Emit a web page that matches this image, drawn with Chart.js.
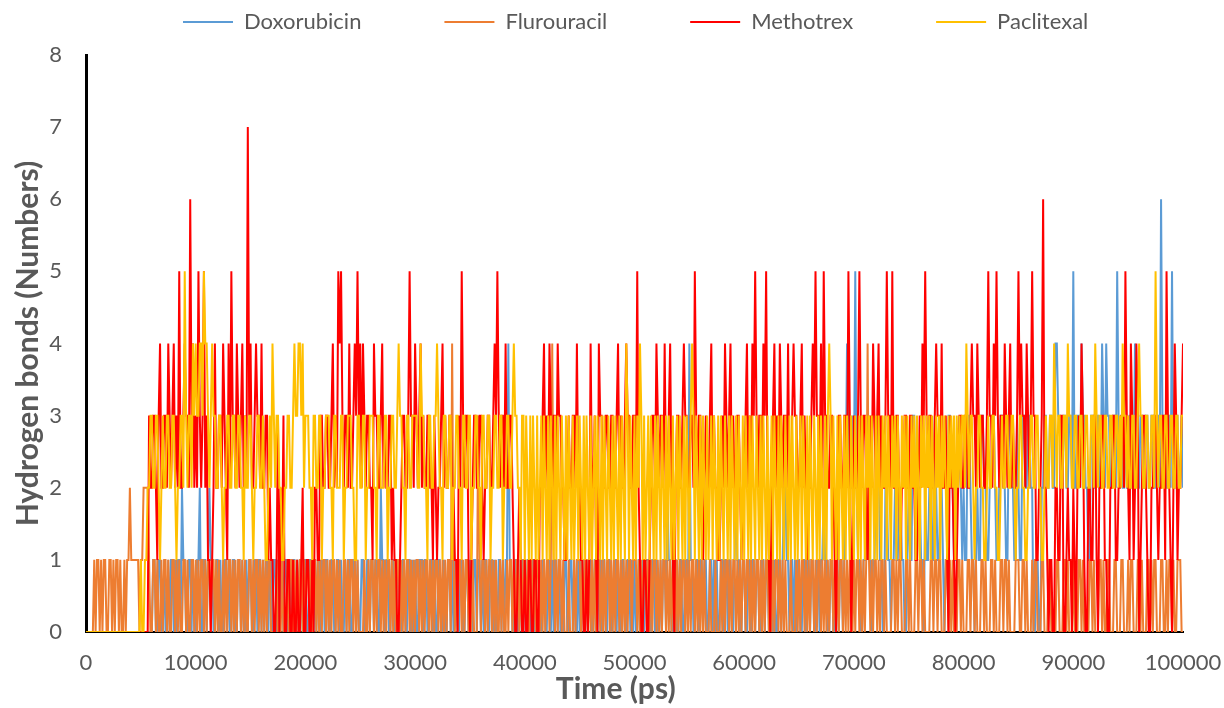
<!DOCTYPE html>
<html>
<head>
<meta charset="utf-8">
<script src="https://cdn.jsdelivr.net/npm/chart.js@4.4.0/dist/chart.umd.min.js"></script>
<style>
  html, body { margin: 0; padding: 0; background: #ffffff; }
  #wrap { width: 1224px; height: 708px; }
</style>
</head>
<body>
<div id="wrap"><canvas id="c" width="1224" height="708"></canvas></div>
<script>
// ---- data (hydrogen bonds, one value every 125 ps; one line = 10000 ps) ----
const timeStepPs = 125;
const seriesNames = ['Doxorubicin', 'Flurouracil', 'Methotrex', 'Paclitexal'];
const xTickLabels = ['0','10000','20000','30000','40000','50000','60000','70000','80000','90000','100000'];
const yTickLabels = ['0','1','2','3','4','5','6','7','8'];

const doxorubicin = [
0,0,0,0,0,0,0,0,0,0, 0,0,0,0,0,0,0,0,0,0, 0,0,0,0,0,0,0,0,0,0, 0,0,0,0,0,0,0,0,0,0, 0,0,0,0,0,0,0,0,0,1, 1,0,0,1,1,0,0,1,0,0, 1,0,1,1,0,1,0,1,1,0, 2,1,1,0,0,1,1,0,1,0,
0,1,1,2,0,0,1,1,0,1, 2,1,1,0,0,1,1,0,1,0, 0,1,1,0,1,0,0,1,1,0, 0,1,1,0,1,0,0,1,0,1, 1,0,0,1,1,0,1,1,0,1, 0,1,1,0,1,1,0,1,1,0, 1,0,1,1,0,1,1,0,1,1, 0,1,1,0,1,0,1,1,0,1,
1,0,0,1,1,0,0,1,0,1, 1,0,1,1,0,1,1,0,0,1, 1,0,0,1,1,0,1,0,0,1, 0,1,1,0,0,1,1,0,1,0, 0,1,1,0,0,1,1,0,1,1, 0,1,1,0,0,2,1,1,0,1, 1,0,0,1,1,0,0,1,1,0, 0,1,1,0,0,1,1,0,1,0,
1,0,0,1,1,1,0,1,1,0, 0,1,1,0,1,0,0,1,1,0, 0,1,0,0,1,1,0,1,0,1, 1,0,0,1,1,0,0,1,1,0, 1,0,0,1,1,0,1,1,0,1, 0,1,1,0,0,1,1,0,1,0, 0,1,1,0,1,0,1,1,4,1, 1,0,0,1,1,0,0,1,1,0,
1,0,1,1,0,1,1,0,1,1, 1,0,0,1,1,0,0,1,1,0, 1,0,1,1,0,1,0,0,0,1, 1,0,0,1,1,0,1,0,0,1, 0,1,1,0,1,1,0,1,1,0, 0,1,1,0,1,1,0,1,1,0, 0,1,1,0,0,1,1,0,1,0, 0,1,1,0,0,1,1,0,1,0,
1,0,0,1,1,0,1,0,1,1, 1,0,0,1,1,0,1,0,0,1, 0,1,1,0,2,1,1,0,0,1, 1,0,0,1,1,0,0,1,1,0, 4,1,1,0,0,1,1,0,1,1, 0,1,1,0,0,1,1,0,1,0, 1,0,0,1,1,0,1,1,0,1, 1,0,0,1,2,1,1,0,0,1,
1,0,0,1,1,0,1,1,0,1, 1,0,0,1,1,0,1,1,0,1, 1,0,1,0,0,1,1,0,1,2, 2,1,1,0,1,1,0,1,0,1, 1,0,0,1,1,0,1,1,0,1, 1,0,0,1,1,0,1,1,2,1, 1,0,0,1,1,0,0,1,1,0, 1,1,0,1,2,4,3,2,2,3,
2,5,2,1,1,0,0,1,1,2, 2,1,1,0,1,1,2,3,3,1, 1,0,0,2,2,1,1,0,1,1, 2,1,1,2,2,1,1,0,0,1, 2,1,1,3,3,1,1,2,2,1, 1,0,2,1,1,2,3,1,1,3, 2,1,1,2,2,1,0,1,1,3, 3,2,2,1,1,2,2,3,2,1,
2,1,1,3,3,2,1,1,0,1, 2,1,1,3,3,2,2,1,1,2, 2,3,3,2,1,1,2,3,3,2, 2,1,1,3,3,2,2,1,1,3, 2,1,1,3,3,2,2,3,3,2, 2,0,0,1,1,0,0,2,2,3, 3,2,2,3,3,2,2,4,4,3, 3,2,2,3,3,2,2,3,3,2,
5,2,2,3,3,2,4,3,3,2, 2,1,1,3,3,2,2,3,3,2, 2,4,3,2,4,3,3,2,2,3, 3,2,5,3,2,3,2,2,3,2, 2,3,3,2,2,4,3,2,2,3, 3,2,2,3,3,2,2,3,3,2, 2,3,3,2,6,3,3,2,2,3, 3,2,5,2,2,3,3,2,2,3,
2];

const flurouracil = [
0,0,0,0,0,0,1,0,1,1, 0,1,0,1,1,0,0,1,1,0, 1,0,1,1,0,1,0,0,1,0, 1,1,2,1,1,1,1,1,1,0, 1,1,2,2,2,2,1,0,0,1, 1,0,1,0,0,1,0,1,1,0, 1,0,0,1,1,0,1,0,1,0, 0,1,1,0,1,0,0,1,1,0,
1,0,1,0,1,1,0,1,0,1, 1,0,1,1,0,1,0,1,0,0, 1,0,1,0,1,1,0,1,0,1, 0,1,1,0,1,0,1,0,0,1, 1,0,1,0,1,1,0,1,0,1, 0,1,0,1,1,0,0,0,0,1, 0,0,0,1,0,0,0,1,0,1, 1,0,1,0,1,0,1,1,0,1,
0,1,1,0,1,0,1,1,0,1, 0,1,0,1,1,0,1,0,1,0, 1,1,0,1,0,1,0,0,1,1, 0,1,0,1,1,0,1,0,1,0, 0,0,0,1,0,0,1,0,1,1, 0,1,0,1,1,0,1,0,1,0, 1,1,0,1,0,1,0,1,1,0, 1,0,1,0,1,1,0,1,0,1,
0,1,1,0,1,0,1,0,1,1, 0,1,0,1,0,1,1,0,1,0, 1,0,1,0,1,1,0,4,1,0, 1,0,1,1,0,1,0,1,1,0, 0,0,1,0,0,0,3,1,0,1, 1,0,1,0,1,1,0,1,0,1, 0,0,1,0,1,0,0,1,0,1, 1,0,1,0,1,1,0,1,0,1,
1,0,1,0,1,1,0,1,0,1, 1,0,1,0,1,0,1,1,0,1, 4,1,0,1,0,1,1,0,1,0, 0,0,1,0,0,0,1,0,1,1, 1,0,1,0,1,1,0,1,0,1, 0,1,0,1,1,0,1,0,1,0, 1,1,0,1,0,1,0,1,1,0, 1,0,1,0,1,0,1,1,0,1,
1,1,0,1,0,1,0,1,1,0, 1,0,1,0,1,1,0,1,0,1, 0,1,1,0,1,0,1,0,1,1, 0,1,0,1,0,1,1,0,1,0, 1,0,1,1,0,1,0,1,0,1, 0,1,0,0,0,1,0,0,0,1, 0,0,0,1,0,1,0,1,1,0, 1,0,1,1,0,1,0,1,0,1,
1,0,1,1,0,1,0,1,0,1, 1,0,1,0,1,0,1,1,0,1, 0,1,0,1,1,0,1,0,1,0, 1,0,0,0,1,0,0,0,1,0, 1,0,1,1,0,1,0,1,0,1, 1,0,1,0,1,1,0,1,0,1, 0,1,0,1,1,0,1,0,1,0, 1,1,0,1,0,1,0,1,1,0,
1,0,1,1,0,1,0,1,0,1, 4,1,0,1,0,1,1,0,1,0, 1,1,0,1,0,0,0,0,1,1, 0,1,0,1,1,0,0,0,1,1, 0,1,0,0,0,1,1,0,1,1, 0,1,0,0,0,0,1,1,0,1, 1,0,1,1,0,0,0,1,1,0, 1,0,1,0,0,0,1,1,0,1,
0,0,0,1,1,0,1,1,0,1, 0,0,0,1,1,0,1,0,0,0, 1,1,0,1,0,0,0,1,1,0, 1,1,0,1,0,0,0,0,1,1, 1,0,0,1,1,0,1,0,0,0, 1,0,1,1,0,0,0,1,1,0, 0,0,1,1,0,0,0,0,1,1, 0,0,0,1,1,0,1,0,0,0,
1,0,0,0,1,1,0,1,0,0, 0,0,1,1,0,1,0,0,0,1, 1,0,1,0,0,1,1,0,0,0, 1,1,0,0,0,1,1,0,0,0, 1,0,1,1,0,0,0,1,1,0, 1,0,0,0,1,1,0,1,0,1, 1,0,0,0,1,1,0,0,1,0, 1,1,0,1,0,0,1,1,1,0,
0];

const methotrex = [
0,0,0,0,0,0,0,0,0,0, 0,0,0,0,0,0,0,0,0,0, 0,0,0,0,0,0,0,0,0,0, 0,0,0,0,0,0,0,0,0,0, 0,0,0,0,0,0,3,2,2,3, 3,2,1,3,4,2,2,3,3,2, 4,3,2,3,4,2,3,2,5,2, 2,3,4,3,3,2,6,3,4,2,
3,2,5,3,2,3,5,2,3,1, 1,0,1,2,4,2,2,3,3,2, 4,3,2,1,4,2,5,3,3,2, 4,3,2,3,4,2,3,2,7,3, 4,2,2,3,4,3,3,2,4,2, 2,3,3,1,2,1,1,0,0,1, 3,0,2,1,3,0,0,1,1,0, 0,1,0,0,1,0,0,1,2,0,
0,1,1,0,0,1,0,2,2,1, 1,3,3,2,2,3,3,2,2,3, 4,2,3,2,5,4,5,3,2,3, 3,2,4,2,2,3,4,3,5,3, 4,2,4,3,2,3,3,2,2,1, 4,3,3,2,2,3,4,2,3,2, 2,3,3,1,2,1,1,0,0,1, 2,3,3,2,2,3,5,3,3,2,
4,3,2,3,4,2,3,2,2,3, 3,2,2,1,3,2,1,2,2,3, 4,2,3,2,2,3,3,2,2,1, 1,0,3,2,5,3,2,3,3,1, 0,1,2,3,3,2,2,3,3,2, 1,2,2,3,3,2,2,3,4,3, 5,3,2,3,3,2,4,2,2,3, 3,2,1,0,0,1,2,1,0,0,
1,0,0,1,1,0,0,1,1,0, 0,2,2,3,4,2,3,2,4,3, 2,3,3,2,4,3,3,2,2,1, 1,2,3,2,2,3,3,2,4,2, 2,1,1,0,0,1,0,1,4,2, 2,3,1,0,4,3,3,2,2,3, 3,2,2,3,3,2,2,3,4,2, 3,2,2,3,4,3,3,2,2,3,
3,2,5,2,1,0,0,1,1,0, 0,1,2,3,3,2,4,3,2,3, 3,2,4,2,2,3,4,2,1,0, 2,3,3,2,2,3,4,3,3,2, 2,3,3,2,5,3,2,3,3,2, 1,2,3,2,2,3,4,2,3,2, 2,1,1,2,3,2,4,3,2,3, 4,2,3,2,2,3,3,2,1,2,
2,3,4,2,3,2,4,3,5,3, 2,3,3,2,4,3,5,2,1,0, 2,3,4,2,3,2,4,3,2,3, 3,2,4,2,2,3,4,3,3,2, 2,3,4,2,3,2,1,2,2,3, 4,3,5,3,3,2,4,2,5,3, 3,2,2,3,3,2,1,0,2,3, 3,2,2,3,3,2,5,3,0,1,
3,2,2,3,5,3,2,3,3,2, 1,2,3,2,4,3,2,3,4,2, 3,2,2,3,5,3,3,2,5,2, 2,3,3,2,1,2,2,3,3,2, 2,3,3,2,2,1,1,2,3,2, 4,3,5,3,2,3,3,2,2,3, 4,3,3,2,4,2,2,3,1,0, 3,2,2,1,0,1,2,3,3,2,
2,3,3,2,2,3,4,3,3,2, 4,3,2,3,3,2,2,3,5,3, 3,2,4,3,5,3,2,3,3,2, 4,3,2,3,4,2,3,2,2,3, 5,3,4,3,3,2,4,3,2,3, 5,3,3,1,1,2,2,3,6,2, 2,1,0,1,1,0,0,2,2,1, 1,3,3,0,0,1,2,1,1,0,
2,1,0,2,3,2,4,3,1,0, 0,2,2,1,1,3,3,1,0,2, 2,3,3,1,1,0,0,2,2,3, 3,1,1,2,2,3,3,2,5,3, 2,1,4,3,1,2,4,3,0,1, 2,3,3,2,1,0,0,2,2,3, 3,2,1,2,2,3,3,1,5,3, 2,1,0,2,4,3,1,2,2,3,
4];

const paclitexal = [
0,0,0,0,0,0,0,0,0,0, 0,0,0,0,0,0,0,0,0,0, 0,0,0,0,0,0,0,0,0,0, 0,0,0,0,0,0,0,0,0,0, 1,0,0,1,1,2,2,3,3,2, 2,3,3,2,1,2,3,2,2,3, 3,2,2,3,3,2,1,2,2,3, 3,2,5,3,2,3,3,2,4,3,
4,3,3,4,4,3,5,4,4,3, 2,3,4,3,3,2,2,3,3,2, 1,2,2,3,3,2,2,3,3,2, 2,3,3,2,2,1,3,2,2,3, 3,2,1,2,2,3,3,2,2,3, 2,1,1,2,3,2,4,3,2,3, 3,2,2,1,1,2,2,3,3,2, 2,3,4,3,3,4,4,3,4,2,
3,3,3,2,2,1,3,3,2,2, 3,3,1,2,2,3,3,3,2,2, 1,3,3,2,2,2,3,3,1,2, 2,3,3,3,2,2,1,1,3,3, 2,2,3,3,1,2,2,3,3,3, 2,2,1,3,3,2,2,2,3,3, 1,2,2,3,3,2,2,3,4,3, 3,2,2,1,3,3,2,2,3,3,
3,3,2,2,4,3,3,2,2,1, 3,3,2,2,3,3,4,3,2,2, 1,3,3,2,2,3,3,1,2,2, 3,3,2,2,1,3,3,2,2,3, 3,1,2,2,3,3,2,2,1,3, 3,2,2,3,3,1,2,2,3,3, 2,2,3,3,1,2,2,3,3,2, 2,3,4,3,3,2,2,1,3,3,
1,3,2,1,3,1,3,2,1,3, 1,2,3,1,3,2,1,3,1,3, 2,1,3,1,3,2,1,3,2,1, 3,1,3,2,1,3,1,2,3,1, 3,2,1,3,1,3,2,1,3,1, 2,3,1,3,2,1,3,1,3,2, 1,3,2,1,3,1,3,2,1,3, 1,3,2,1,4,3,1,3,2,1,
3,1,3,2,4,3,1,3,1,2, 3,1,3,2,1,3,1,3,2,1, 3,2,1,3,1,3,2,1,3,1, 2,3,1,3,2,1,3,1,3,2, 1,3,4,3,1,3,2,1,3,1, 3,2,1,3,1,2,3,1,3,2, 1,3,1,3,2,1,3,2,1,3, 1,3,2,1,3,1,3,2,1,3,
1,3,2,1,3,1,3,2,1,3, 2,1,3,1,3,2,1,3,1,2, 3,1,3,2,1,3,1,3,2,1, 3,2,1,3,1,3,2,1,3,1, 2,3,1,3,2,1,3,1,3,2, 1,3,2,1,3,1,3,2,1,3, 1,3,4,3,1,3,2,1,3,1, 3,2,1,3,1,3,2,1,3,2,
1,3,2,1,3,1,3,2,1,3, 2,3,1,3,2,1,3,1,3,2, 1,3,2,3,1,3,2,1,3,2, 3,1,3,2,1,3,2,3,1,3, 2,1,3,2,3,1,3,2,1,3, 2,3,1,3,2,3,1,3,2,1, 3,2,3,1,3,2,3,2,1,3, 2,3,2,3,1,3,2,3,2,3,
3,2,4,3,2,3,3,2,1,2, 2,3,3,2,2,1,1,2,3,2, 2,3,3,2,2,1,1,2,3,2, 2,3,3,2,2,3,3,2,1,2, 2,3,3,2,2,1,1,2,2,3, 3,2,2,3,3,2,2,1,1,2, 3,2,2,3,3,2,4,3,2,3, 3,2,2,3,3,2,4,3,3,2,
2,3,3,2,2,3,3,2,2,3, 3,2,2,3,3,2,4,3,2,3, 3,2,2,3,3,2,2,3,3,2, 2,3,3,2,3,2,4,3,3,2, 3,2,2,3,3,2,2,3,4,3, 3,2,2,3,3,2,2,3,3,2, 5,3,2,3,3,2,2,3,3,2, 2,3,3,2,2,3,3,2,2,3,
3];

const seriesColors = ['#5B9BD5', '#ED7D31', '#FF0000', '#FFC000'];
// -----------------------------------------------------------------------------------------------

const toPoints = (arr) => arr.map((v, i) => ({ x: i * timeStepPs, y: v }));
const allSeries = [doxorubicin, flurouracil, methotrex, paclitexal];

const textGrey = '#595959';
Chart.defaults.font.family = 'Lato, "Open Sans", sans-serif';

const legendFontSize = 22;
const legendPadding = 83;

const legendFix = {
  id: 'legendFix',
  beforeLayout(chart) {
    const lg = chart.legend;
    if (lg && !lg._fixed) {
      const origFit = lg.fit.bind(lg);
      lg.fit = function () { origFit(); this.height = 55; };
      lg._fixed = true;
    }
  },
  afterLayout(chart) {
    const lg = chart.legend;
    if (!lg || !lg.lineWidths) return;
    const p = lg.options.labels.padding;
    const start = (lg.left + p + lg.right - lg.lineWidths[0]) / 2;
    const d = 183 - start;
    lg.left += d; lg.right += d;
    lg.top = 22 - legendFontSize / 2 - p;
  }
};

new Chart(document.getElementById('c'), {
  type: 'line',
  data: {
    datasets: seriesNames.map((name, k) => ({
      label: name,
      data: toPoints(allSeries[k]),
      borderColor: seriesColors[k],
      backgroundColor: seriesColors[k],
      borderWidth: 2,
      pointRadius: 0,
      tension: 0,
      fill: false,
      order: seriesNames.length - 1 - k
    }))
  },
  options: {
    responsive: false,
    animation: false,
    devicePixelRatio: 1,
    layout: { padding: { left: 0, right: 41, top: 0, bottom: 0 } },
    plugins: {
      legend: {
        position: 'top',
        reverse: true,
        labels: {
          usePointStyle: true,
          pointStyle: 'line',
          pointStyleWidth: 50,
          padding: legendPadding,
          color: textGrey,
          font: { size: legendFontSize }
        }
      },
      tooltip: { enabled: false }
    },
    scales: {
      x: {
        type: 'linear',
        min: 0,
        max: 100000,
        afterFit(scale) { scale.height = 76; scale.paddingLeft = 0; scale.paddingRight = 0; },
        afterBuildTicks(scale) { scale.ticks = xTickLabels.map(t => ({ value: Number(t) })); },
        ticks: {
          padding: 18,
          color: textGrey,
          font: { size: 22 },
          maxRotation: 0,
          autoSkip: false,
          callback: (v) => String(v)
        },
        grid: { display: false, drawTicks: false },
        border: { display: true, color: '#000000', width: 2 },
        title: {
          display: true,
          text: 'Time (ps)\u2003\u2002',
          color: textGrey,
          font: { size: 30, weight: 'bold' },
          padding: { top: 0, bottom: 1 }
        }
      },
      y: {
        min: 0,
        max: 8,
        afterFit(scale) { scale.width = 86; },
        afterBuildTicks(scale) { scale.ticks = yTickLabels.map(t => ({ value: Number(t) })); },
        ticks: {
          padding: 24,
          color: textGrey,
          font: { size: 22 },
          callback: (v) => String(v)
        },
        grid: { display: false, drawTicks: false },
        border: { display: true, color: '#000000', width: 3 },
        title: {
          display: true,
          text: 'Hydrogen bonds (Numbers)',
          color: textGrey,
          font: { size: 30, weight: 'bold' },
          padding: { top: 10, bottom: 0 }
        }
      }
    }
  },
  plugins: [legendFix]
});
</script>
</body>
</html>
